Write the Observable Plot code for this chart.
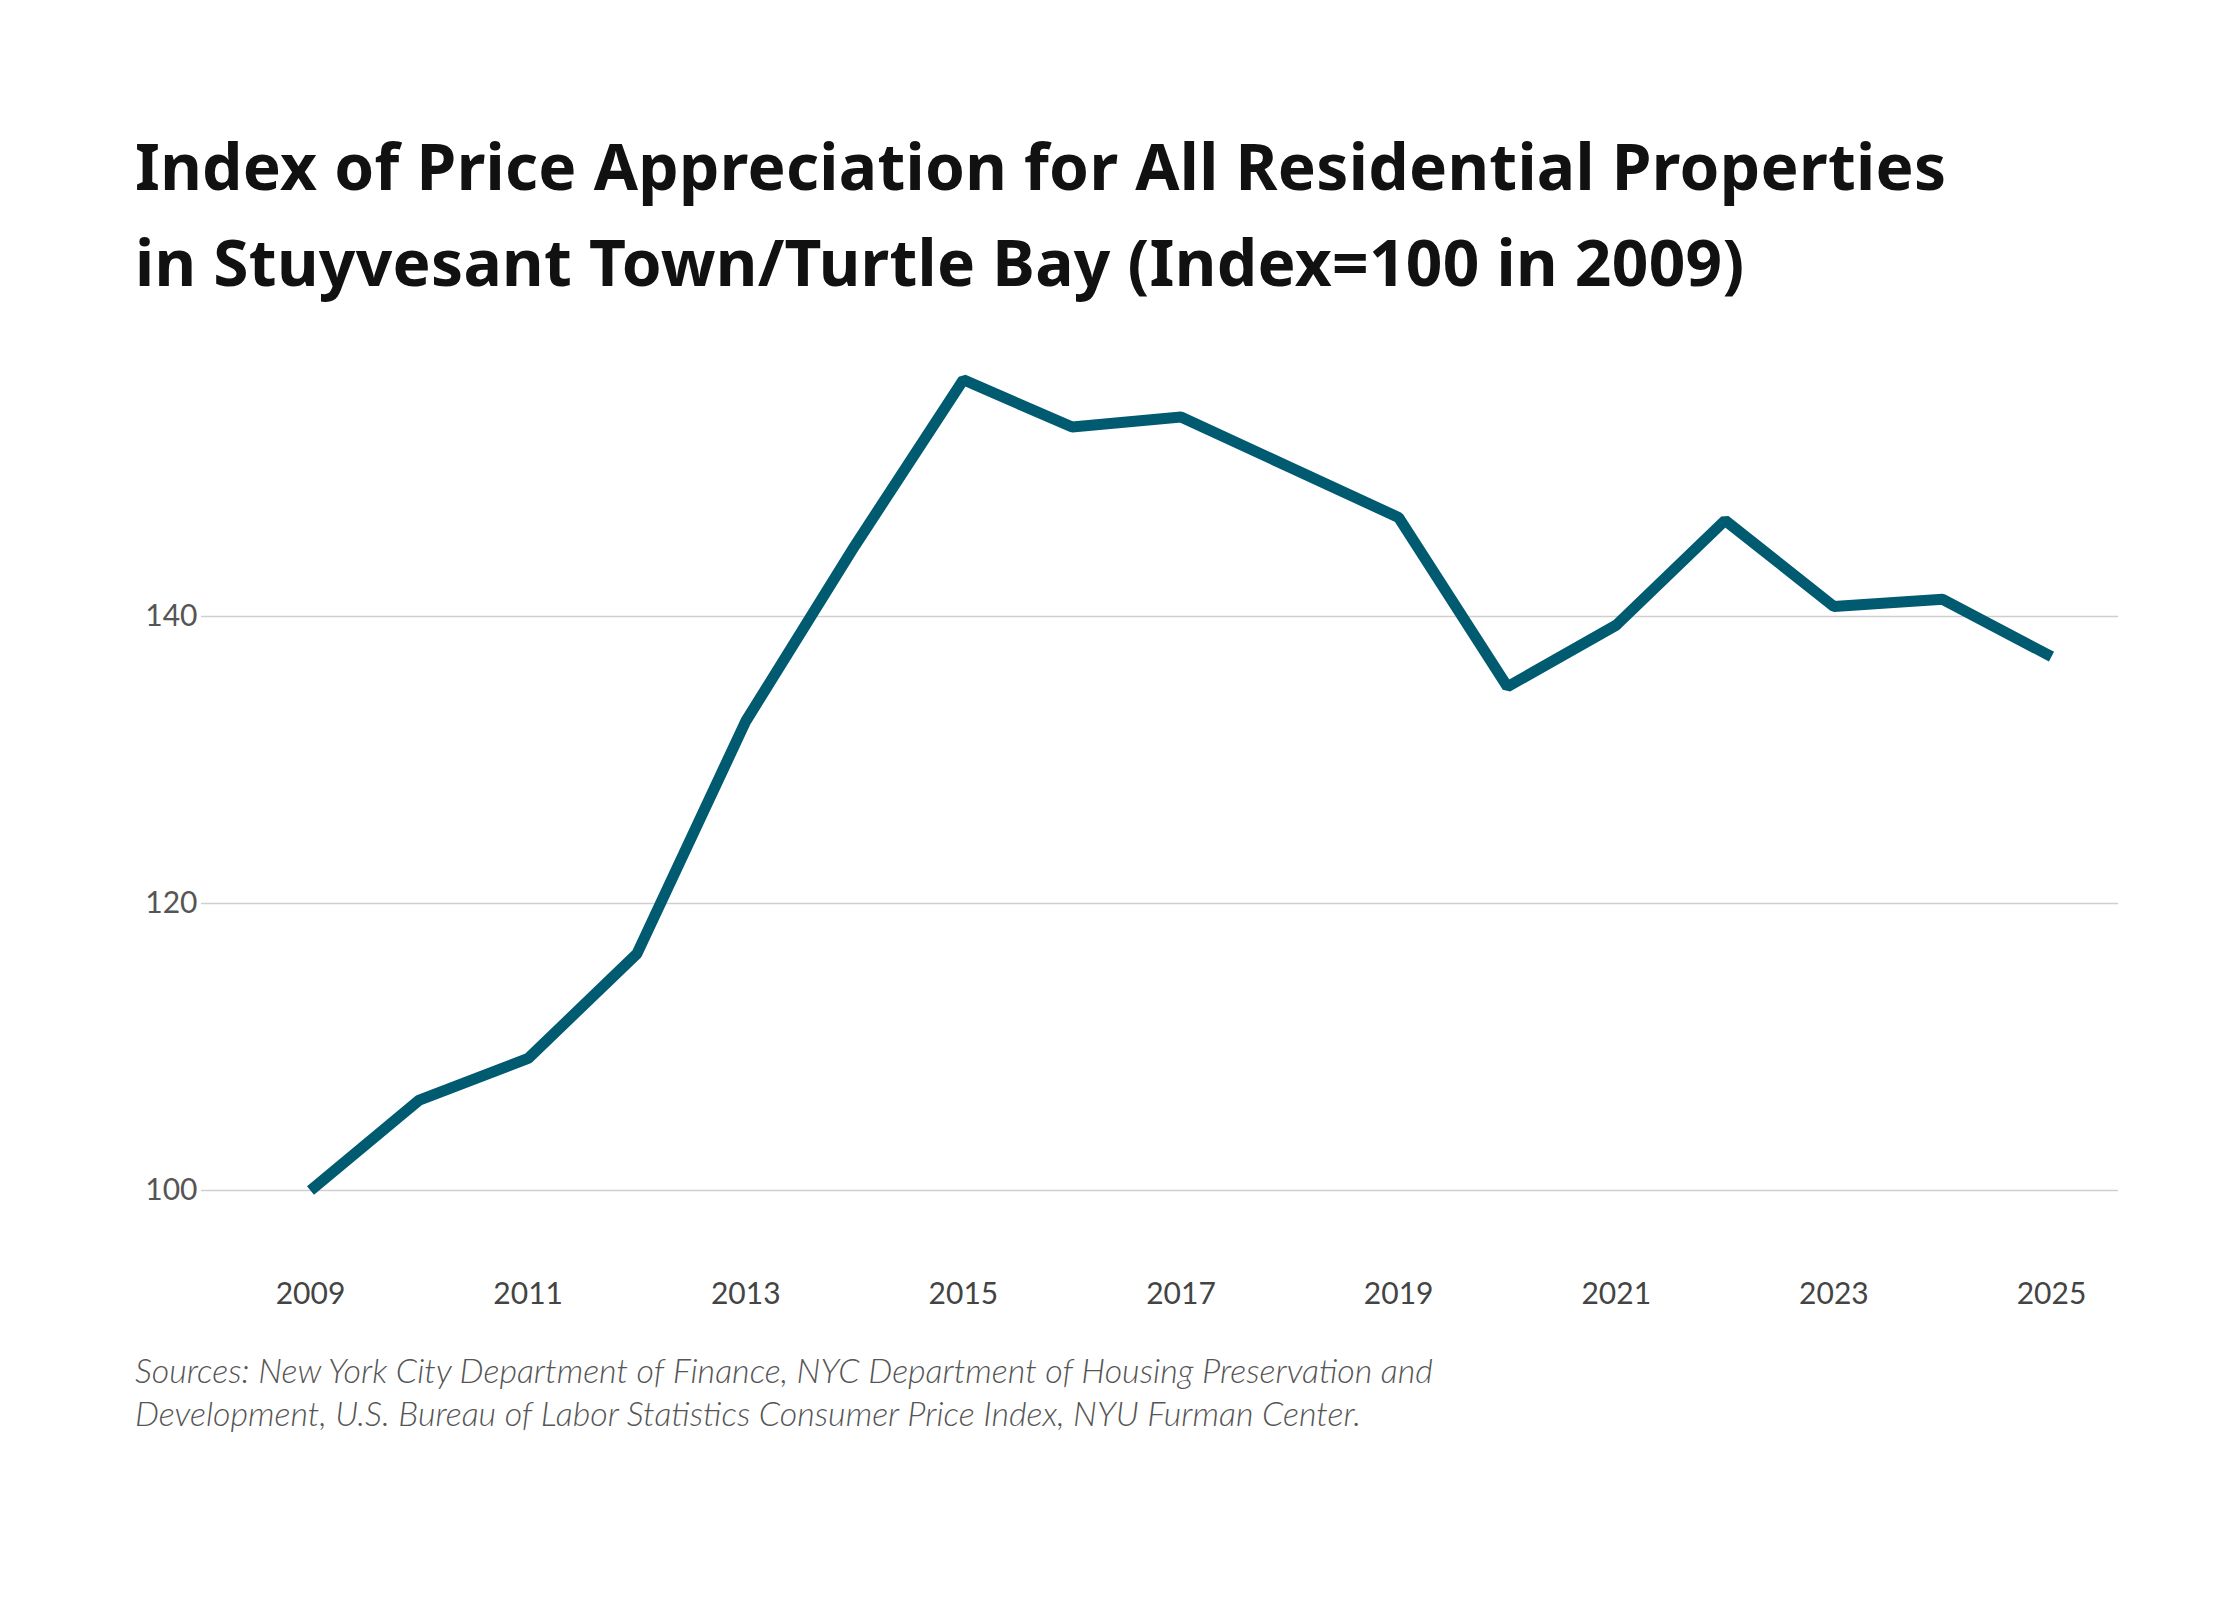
<!DOCTYPE html>
<html><head><meta charset="utf-8">
<script src="https://cdn.jsdelivr.net/npm/d3@7"></script>
<script src="https://cdn.jsdelivr.net/npm/@observablehq/plot@0.6"></script>
<style>
body{margin:0;background:#fff;width:2240px;height:1600px;overflow:hidden;font-family:Lato,"Open Sans",sans-serif}
#title{position:absolute;left:135px;top:118px;font-family:"Noto Sans",sans-serif;font-weight:700;font-size:64px;line-height:96px;color:#111;letter-spacing:0.3px}
#chart{position:absolute;left:0;top:330px}
#cap{position:absolute;left:135px;top:1348px;width:1400px;font-style:italic;font-weight:300;font-size:34px;line-height:43px;color:#555}
</style></head><body>
<div id="title">Index of Price Appreciation for All Residential Properties<br>in Stuyvesant Town/Turtle Bay (Index=100 in 2009)</div>
<div id="chart"></div>
<div id="cap">Sources: New York City Department of Finance, NYC Department of Housing Preservation and Development, U.S. Bureau of Labor Statistics Consumer Price Index, NYU Furman Center.</div>
<script>
const years = [2009,2010,2011,2012,2013,2014,2015,2016,2017,2018,2019,2020,2021,2022,2023,2024,2025];
const values = [100,106.3,109.2,116.5,132.7,144.9,156.5,153.2,153.9,150.4,146.9,135.1,139.4,146.7,140.7,141.2,137.2];
const yTicks = [100,120,140];
const xTicks = [2009,2011,2013,2015,2017,2019,2021,2023,2025];
const data = years.map((y,i)=>({year:y,value:values[i]}));
const chart = Plot.plot({
  width:2240, height:1010,
  marginLeft:201, marginRight:122, marginTop:0, marginBottom:80,
  style:{fontFamily:"Lato, 'Open Sans', sans-serif", fontSize:"30px", color:"#555", background:"#fff"},
  x:{domain:[2009,2025], range:[310,2051]},
  y:{domain:[100,140], range:[860,286]},
  marks:[
    Plot.ruleY(yTicks,{stroke:"#cfcfcf",strokeWidth:1.5}),
    Plot.axisY(yTicks,{tickSize:0,tickPadding:4,label:null,fill:"#555"}),
    Plot.axisX(xTicks,{tickSize:0,tickPadding:22,label:null,tickFormat:d=>String(d),fill:"#444"}),
    Plot.line(data,{x:"year",y:"value",stroke:"#005a70",strokeWidth:11,strokeLinejoin:"miter",strokeLinecap:"butt"})
  ]
});
document.getElementById("chart").appendChild(chart);
</script>
</body></html>
